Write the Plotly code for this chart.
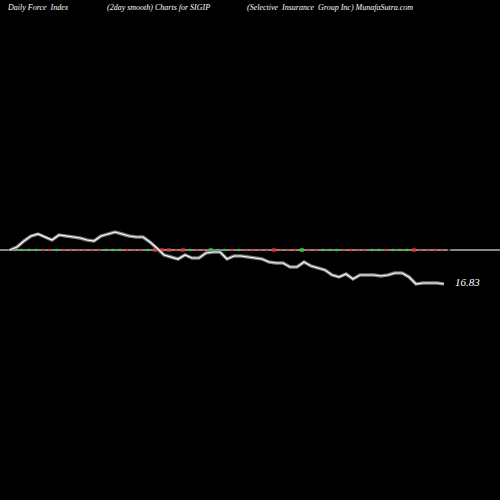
import plotly.graph_objects as go

days = list(range(63))
force = [0, 3, 9, 14, 16, 13, 10, 15, 14, 13, 12, 10, 9, 14, 16, 18, 16, 14, 13, 13,
         8, 2, -5, -7, -9, -5, -8, -8, -3, -2, -2, -9, -6, -6, -7, -8, -9, -12, -13, -13,
         -17, -17, -12, -16, -18, -20, -25, -27, -24, -29, -25, -25, -25, -26, -25, -23, -23, -27, -34, -33,
         -33, -33, -34]
signs = list("GGGGRRGRRRRRRGGGRRRGRRRRRGRRGGGRGRRRRRRRRGRRGGGRRRRGGRGGGRRRRR")
big = [20, 21, 22, 24, 28, 37, 41, 57]
last_label = "16.83"

mx = [d + 0.7 for d in days]
colors = ["#22dd22" if s == "G" else "#ee2222" for s in signs]
sizes = [4 if i in big else 2.5 for i in days]

fig = go.Figure()
fig.add_trace(go.Scatter(x=[-5, 80], y=[0, 0], mode="lines", line=dict(color="#888888", width=2), hoverinfo="skip"))
fig.add_trace(go.Scatter(x=mx, y=[0]*len(mx), mode="markers",
                         marker=dict(color=colors, size=sizes, symbol="square", line=dict(width=0)),
                         hoverinfo="skip"))
fig.add_trace(go.Scatter(x=days, y=force, mode="lines", line=dict(color="#777777", width=3.5)))
fig.add_trace(go.Scatter(x=days, y=force, mode="lines", line=dict(color="#ffffff", width=1.2)))
fig.add_annotation(x=days[-1] + 1.3, y=force[-1] + 2, text=last_label, showarrow=False, xanchor="left",
                   font=dict(family="Liberation Serif", size=11, color="white", style="italic"))

tf = dict(family="Liberation Serif", size=8, color="white", style="italic")
for xp, t in [(5, "Daily Force  Index"), (105, "(2day smooth) Charts for SIGIP"),
              (245, "(Selective  Insurance  Group Inc) MunafaSutra.com")]:
    fig.add_annotation(x=xp/500, y=1-7/500, xref="paper", yref="paper", text=t, showarrow=False,
                       xanchor="left", yanchor="middle", font=tf)

fig.update_layout(width=500, height=500, margin=dict(l=0, r=0, t=0, b=0),
                  paper_bgcolor="black", plot_bgcolor="black", showlegend=False,
                  xaxis=dict(range=[-10/7, 70], visible=False),
                  yaxis=dict(range=[-250, 250], visible=False))
fig.write_html("out.html", config={"displayModeBar": False},
               post_script="document.body.style.margin='0';document.body.style.background='black';")
